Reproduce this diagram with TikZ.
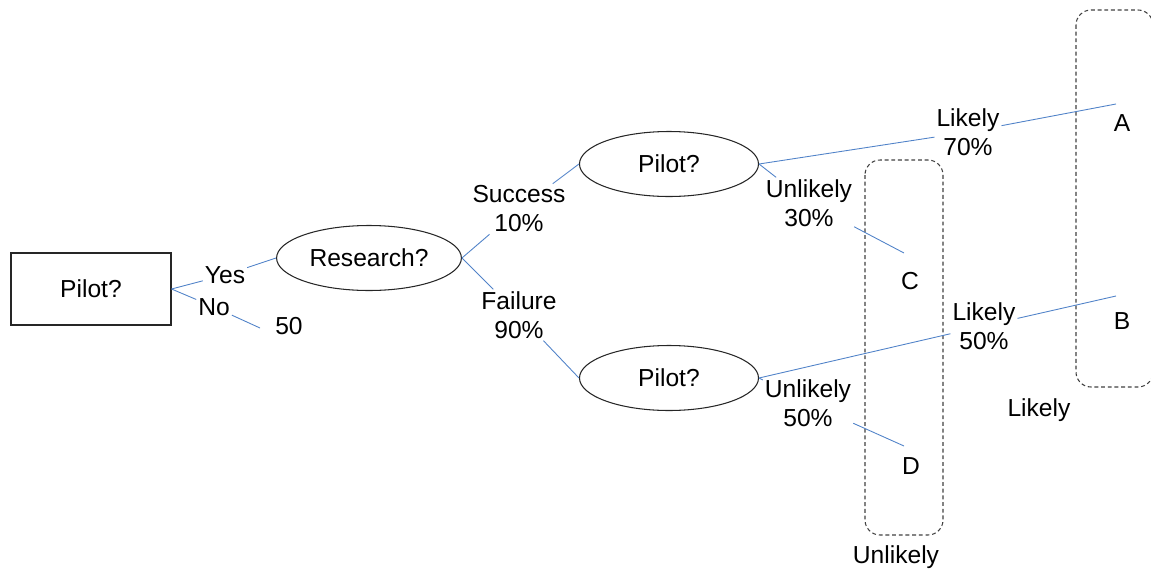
\documentclass[tikz,border=0pt]{standalone}
\usepackage{fontspec}
\setmainfont{Liberation Sans}
\usetikzlibrary{shapes.geometric}

\definecolor{edgeblue}{RGB}{80,130,200}

\tikzset{
  decision/.style={draw=black!85, line width=0.6pt, minimum width=3.2cm, minimum height=1.44cm},
  chance/.style={ellipse, draw=black!85, line width=0.6pt, minimum width=3.58cm, minimum height=1.3cm},
  branch/.style={align=center, inner sep=1pt},
  edge/.style={edgeblue, line width=0.5pt},
  group/.style={draw=black!75, line width=0.6pt, dash pattern=on 2.2pt off 1.6pt, rounded corners=0.3cm}
}

\begin{document}
\begin{tikzpicture}[x=0.2mm, y=-0.2mm, font=\fontsize{14pt}{16.5pt}\selectfont]
\useasboundingbox (0,0) rectangle (1151,569);

\draw[group] (865,160) rectangle (943,535);
\draw[group] (1076,10) rectangle (1153,387);

\node[decision] (P) at (91,289) {Pilot?};
\node[chance] (R) at (369,258) {Research?};
\node[chance] (S) at (669,164) {Pilot?};
\node[chance] (F) at (669,378) {Pilot?};

\node[branch] (Y) at (225,275) {Yes};
\node[branch] (N) at (214,307) {No};
\node[branch] (Su) at (519,209) {Success\\10\%};
\node[branch] (Fa) at (519,315) {Failure\\90\%};
\node[branch] (LA) at (968,132) {Likely\\70\%};
\node[branch] (UA) at (809,203) {Unlikely\\30\%};
\node[branch] (LB) at (984,326) {Likely\\50\%};
\node[branch] (UB) at (808,403) {Unlikely\\50\%};

\coordinate (eN) at (260,328);
\coordinate (eA) at (1116,104);
\coordinate (eC) at (904,253);
\coordinate (eB) at (1116,296);
\coordinate (eD) at (904,446);

\node (V) at (289,326) {50};
\node (A) at (1122,123) {A};
\node (C) at (910,281) {C};
\node (B) at (1122,321) {B};
\node (D) at (911,466) {D};
\node (Lg) at (1039,410) {Likely};
\node (Ug) at (896,557) {Unlikely};

\draw[edge] (P.east) -- (Y) -- (R.west);
\draw[edge] (P.east) -- (N) -- (eN);
\draw[edge] (R.east) -- (Su) -- (S.west);
\draw[edge] (R.east) -- (Fa) -- (F.west);
\draw[edge] (S.east) -- (LA) -- (eA);
\draw[edge] (S.east) -- (UA) -- (eC);
\draw[edge] (F.east) -- (LB) -- (eB);
\draw[edge] (F.east) -- (UB) -- (eD);
\end{tikzpicture}
\end{document}
